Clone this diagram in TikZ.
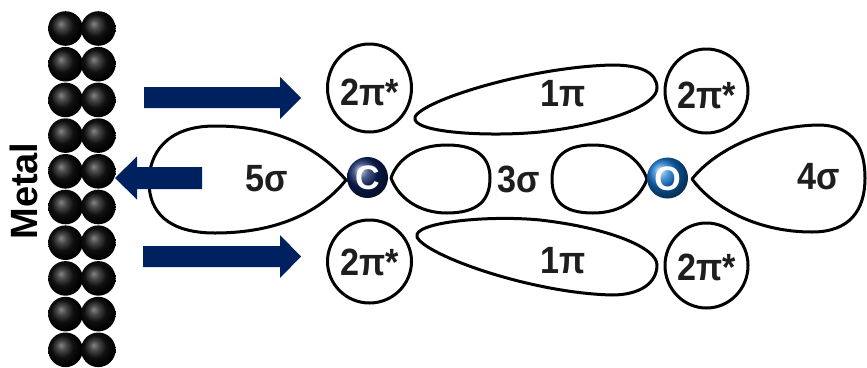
\documentclass[tikz,border=0pt]{standalone}
\usepackage{fontspec}
\setmainfont{Liberation Sans}
\definecolor{arrownavy}{RGB}{0,33,96}
\definecolor{cnavy}{RGB}{14,36,100}
\definecolor{oblue}{RGB}{16,115,205}
\definecolor{lbltext}{RGB}{30,30,30}
\pgfdeclareradialshading{metalsphere}{\pgfpoint{-7bp}{7bp}}{%
  color(0bp)=(black!48); color(7bp)=(black!72); color(16bp)=(black!94);
  color(26bp)=(black); color(50bp)=(black)}
\tikzset{
  orbital/.style={draw=black, line width=3pt, line join=round},
  lbl/.style={text=lbltext, font=\fontsize{38}{38}\selectfont\bfseries, inner sep=0pt},
  atomlbl/.style={text=white, font=\fontsize{34}{34}\selectfont\bfseries, inner sep=0pt},
  bigarrow/.style={fill=arrownavy, draw=none},
  metalatom/.style={shading=metalsphere}
}
\newcommand{\narrow}[1]{\scalebox{0.9}[1]{#1}}
\begin{document}
\begin{tikzpicture}[x=1pt, y=-1pt]
\useasboundingbox (0,0) rectangle (867,367);

% metal surface: two columns of ten atoms
\foreach \r in {0,...,9}{
  \foreach \c in {65.5,98.3}{
    \shade[metalatom] (\c,{28.5+35.7*\r}) circle (17.3);
  }
}
\node[font=\fontsize{38}{38}\selectfont\bfseries, rotate=90, inner sep=0pt] (metal) at (23.5,191) {Metal};

% 5 sigma lobe on carbon
\draw[orbital] (346,180) .. controls (320,150) and (280,126) .. (215,126)
  .. controls (165,126) and (149,155) .. (149,182)
  .. controls (149,212) and (168,233) .. (215,233)
  .. controls (280,233) and (322,210) .. (346,180) -- cycle;
% 3 sigma lobes
\draw[orbital] (391,178) .. controls (398,158) and (418,145) .. (447,145)
  .. controls (480,145) and (490,160) .. (490,178)
  .. controls (490,200) and (478,213) .. (447,213)
  .. controls (418,213) and (398,197) .. (391,178) -- cycle;
\draw[orbital] (647,179) .. controls (640,160) and (622,145) .. (593,145)
  .. controls (560,145) and (552,162) .. (552,179)
  .. controls (552,200) and (562,213) .. (593,213)
  .. controls (622,213) and (640,198) .. (647,179) -- cycle;
% 4 sigma lobe on oxygen
\draw[orbital] (692,179) .. controls (715,150) and (765,126) .. (818,125)
  .. controls (855,125) and (865,150) .. (865,178)
  .. controls (865,210) and (850,232) .. (812,232)
  .. controls (760,232) and (715,210) .. (692,179) -- cycle;
% 1 pi lobes
\draw[orbital] (415,117) .. controls (410,133) and (490,137) .. (540,132)
  .. controls (610,124) and (657,105) .. (657,88)
  .. controls (657,72) and (640,65) .. (612,65)
  .. controls (530,67) and (423,100) .. (415,117) -- cycle;
\draw[orbital] (417,237) .. controls (412,222) and (490,215) .. (540,220)
  .. controls (610,228) and (657,248) .. (657,265)
  .. controls (657,283) and (640,295) .. (612,295)
  .. controls (530,293) and (425,255) .. (417,237) -- cycle;
% 2 pi* orbitals
\draw[orbital] (369.5,88) ellipse (42 and 44);
\draw[orbital] (369.5,261.5) ellipse (42 and 41.5);
\draw[orbital] (706.5,91) ellipse (41.5 and 42);
\draw[orbital] (706.5,265.5) ellipse (41.5 and 42.5);

% labels
\node[lbl] (pistarA) at (370,92) {\narrow{2π*}};
\node[lbl] (pistarB) at (370,262) {\narrow{2π*}};
\node[lbl] (pistarC) at (707,95) {\narrow{2π*}};
\node[lbl] (pistarD) at (707,267) {\narrow{2π*}};
\node[lbl] (piA) at (563,94) {\narrow{1π}};
\node[lbl] (piB) at (563,261) {\narrow{1π}};
\node[lbl] (sigfive) at (267,179) {\narrow{5σ}};
\node[lbl] (sigthree) at (519,179) {\narrow{3σ}};
\node[lbl] (sigfour) at (819,177) {\narrow{4σ}};

% C and O atoms
\shade[ball color=cnavy] (367.5,177.5) circle (20.5);
\node[atomlbl] (C) at (367.5,178) {C};
\shade[ball color=oblue] (667.5,178) circle (20.5);
\node[atomlbl] (O) at (667.5,178.5) {O};

% donation / back-donation arrows
\fill[bigarrow] (144,87) -- (280,87) -- (280,77) -- (301,98) -- (280,119) -- (280,108) -- (144,108) -- cycle;
\fill[bigarrow] (143,246) -- (280,246) -- (280,235) -- (301,256.5) -- (280,278) -- (280,267) -- (143,267) -- cycle;
\fill[bigarrow] (202,167) -- (137,167) -- (137,156.5) -- (115,178) -- (137,199.5) -- (137,189) -- (202,189) -- cycle;
\end{tikzpicture}
\end{document}
